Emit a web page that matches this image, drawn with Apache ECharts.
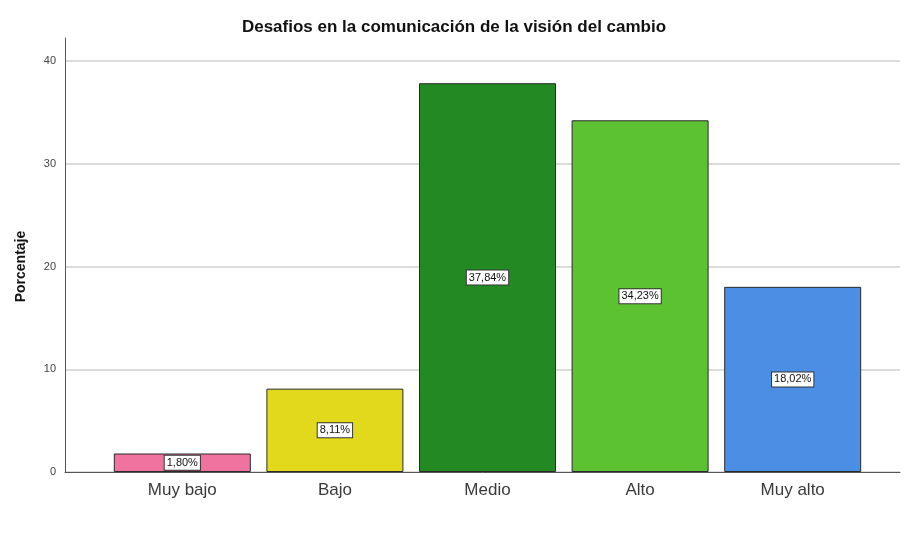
<!DOCTYPE html>
<html>
<head>
<meta charset="utf-8">
<script src="https://cdn.jsdelivr.net/npm/echarts@6/dist/echarts.min.js"></script>
<style>
  html, body { margin: 0; padding: 0; background: #fff; }
  #chart { width: 908px; height: 535px; }
</style>
</head>
<body>
<div id="chart"></div>
<script>
// categorías y porcentajes
var categorias = ['Muy bajo', 'Bajo', 'Medio', 'Alto', 'Muy alto'];
var porcentajes = [1.80, 8.11, 37.84, 34.23, 18.02];
var colores = ['#f0739f', '#e3d91c', '#238a23', '#5cc232', '#4a8fe3'];
var ticksY = [0, 10, 20, 30, 40];

var myChart = echarts.init(document.getElementById('chart'));

var option = {
  backgroundColor: '#fff',
  animation: false,
  title: {
    text: 'Desafios en la comunicación de la visión del cambio',
    left: 'center',
    top: 14,
    textStyle: { fontFamily: 'Liberation Sans', fontSize: 17, fontWeight: 'bold', color: '#111' }
  },
  grid: [
    // solo la línea del eje Y (sube un poco más que 40)
    { left: 65, right: 8, top: 38, bottom: 63 },
    // líneas de división y etiquetas
    { left: 65, right: 8, top: 61, bottom: 63 },
    // barras
    { left: 106, right: 39, top: 61, bottom: 63 }
  ],
  xAxis: [
    {
      gridIndex: 0, type: 'value', min: 0, max: 1,
      axisLine: { show: true, lineStyle: { color: '#555', width: 1 } },
      axisTick: { show: false }, axisLabel: { show: false }, splitLine: { show: false }
    },
    {
      gridIndex: 1, type: 'value', min: 0, max: 1, show: false
    },
    {
      gridIndex: 2, type: 'category', data: categorias,
      axisLine: { show: false }, axisTick: { show: false },
      axisLabel: { margin: 10, fontFamily: 'Liberation Sans', fontSize: 17, color: '#3a3a3a' }
    }
  ],
  yAxis: [
    {
      gridIndex: 0, type: 'value', min: 0, max: 40 + 23 / 10.275,
      axisLine: { show: true, lineStyle: { color: '#555', width: 1 } },
      axisTick: { show: false }, axisLabel: { show: false }, splitLine: { show: false }
    },
    {
      gridIndex: 1, type: 'value', min: ticksY[0], max: ticksY[ticksY.length - 1], interval: 10,
      name: 'Porcentaje', nameLocation: 'middle', nameGap: 37,
      nameTextStyle: { fontFamily: 'Liberation Sans', fontSize: 14, fontWeight: 'bold', color: '#111' },
      axisLine: { show: false }, axisTick: { show: false },
      axisLabel: { margin: 9, fontFamily: 'Liberation Sans', fontSize: 11, color: '#444' },
      splitLine: { show: true, lineStyle: { color: '#d0d0d0', width: 1.5 } }
    },
    {
      gridIndex: 2, type: 'value', min: 0, max: 40, show: false
    }
  ],
  series: [
    {
      type: 'bar',
      xAxisIndex: 2,
      yAxisIndex: 2,
      barWidth: 137,
      data: porcentajes.map(function (v, i) {
        return { value: v, itemStyle: { color: colores[i] } };
      }),
      itemStyle: { borderColor: '#2a2a2a', borderWidth: 1 },
      label: {
        show: true,
        position: 'inside',
        formatter: function (p) { return p.value.toFixed(2).replace('.', ',') + '%'; },
        fontFamily: 'Liberation Sans',
        fontSize: 11,
        color: '#111',
        backgroundColor: '#fff',
        borderColor: '#333',
        borderWidth: 1,
        padding: [2, 2, 1, 2]
      }
    }
  ]
};

myChart.setOption(option);
</script>
</body>
</html>
